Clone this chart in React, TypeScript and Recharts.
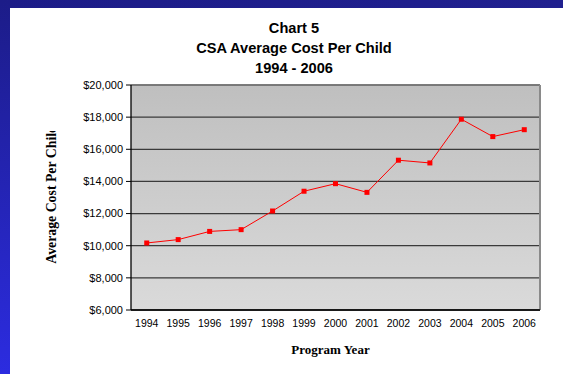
import React from "react";
import {
  LineChart,
  Line,
  XAxis,
  YAxis,
  CartesianGrid,
  ReferenceLine,
} from "recharts";

const years = [1994, 1995, 1996, 1997, 1998, 1999, 2000, 2001, 2002, 2003, 2004, 2005, 2006];
const avgCost = [10170, 10380, 10890, 11000, 12160, 13390, 13860, 13320, 15320, 15150, 17870, 16790, 17220];
const yTicks = [6000, 8000, 10000, 12000, 14000, 16000, 18000, 20000];
const yearBounds = [1993.5, ...years.map((y) => y + 0.5)];

const data = years.map((year, i) => ({ year, cost: avgCost[i] }));

const sans = "'Liberation Sans', Arial, sans-serif";
const serif = "'Liberation Serif', 'Times New Roman', serif";

// square red marker, like the Excel original
const SquareDot = (props: any) => {
  const { cx, cy } = props;
  if (cx == null || cy == null) return null;
  return <rect x={cx - 2.5} y={cy - 2.5} width={5} height={5} fill="#ff0000" />;
};

// the original's axis title is cut off at the top of its box
const YLabel = (props: any) => {
  const { viewBox } = props;
  const x = viewBox.x + 21;
  const y = viewBox.y + viewBox.height / 2 - 3;
  return (
    <g clipPath="url(#ylabClip)">
      <defs>
        <clipPath id="ylabClip">
          <rect x={viewBox.x} y={viewBox.y + 46} width={viewBox.width} height={viewBox.height} />
        </clipPath>
      </defs>
      <text
        x={x}
        y={y}
        transform={`rotate(-90, ${x}, ${y})`}
        textAnchor="middle"
        dominantBaseline="central"
        fontFamily={serif}
        fontWeight="bold"
        fontSize={13.8}
        fill="#000"
      >
        Average Cost Per Child
      </text>
    </g>
  );
};

const XLabel = (props: any) => {
  const { viewBox } = props;
  return (
    <text
      x={viewBox.x + viewBox.width / 2 - 5}
      y={viewBox.y + 39}
      textAnchor="middle"
      dominantBaseline="central"
      fontFamily={serif}
      fontWeight="bold"
      fontSize={13}
      fill="#000"
    >
      Program Year
    </text>
  );
};

export default function App() {
  return (
    <div
      style={{
        position: "absolute",
        left: 0,
        top: 0,
        width: 563,
        height: 374,
        background: "#fff",
        overflow: "hidden",
      }}
    >
      <div
        style={{
          position: "absolute",
          left: 0,
          top: 0,
          width: 563,
          height: 8,
          background: "linear-gradient(to right, #1c1c88, #20208f)",
        }}
      />
      <div
        style={{
          position: "absolute",
          left: 0,
          top: 0,
          width: 10,
          height: 374,
          background: "linear-gradient(to bottom, #1c1c88, #2c2ce0)",
        }}
      />
      <div
        style={{
          position: "absolute",
          left: 174,
          width: 240,
          top: 19,
          textAlign: "center",
          fontFamily: sans,
          fontWeight: "bold",
          fontSize: 14.6,
          lineHeight: "19.8px",
          color: "#000",
        }}
      >
        <div>Chart 5</div>
        <div>CSA Average Cost Per Child</div>
        <div>1994 - 2006</div>
      </div>
      <div style={{ position: "absolute", left: 0, top: 0 }}>
        <LineChart
          width={563}
          height={374}
          data={data}
          margin={{ top: 85, right: 23, left: 30, bottom: 0 }}
        >
          <defs>
            <linearGradient id="plotBg" x1="0" y1="0" x2="0" y2="1">
              <stop offset="0%" stopColor="#bfbfbf" />
              <stop offset="100%" stopColor="#dadada" />
            </linearGradient>
          </defs>
          <CartesianGrid
            vertical={false}
            fill="url(#plotBg)"
            stroke="#3a3a3a"
            strokeWidth={1.3}
          />
          <XAxis
            xAxisId="bounds"
            type="number"
            dataKey="year"
            domain={[1993.5, 2006.5]}
            ticks={yearBounds}
            interval={0}
            tick={false}
            tickSize={5}
            tickLine={{ stroke: "#000" }}
            axisLine={false}
            height={0}
          />
          <XAxis
            type="number"
            dataKey="year"
            domain={[1993.5, 2006.5]}
            ticks={years}
            interval={0}
            tickLine={false}
            tickSize={0}
            tickMargin={10}
            axisLine={{ stroke: "#000", strokeWidth: 1.3 }}
            tick={{ fill: "#000", fontSize: 10.5, fontFamily: sans }}
            height={64}
            label={<XLabel />}
          />
          <YAxis
            type="number"
            domain={[6000, 20000]}
            ticks={yTicks}
            interval={0}
            width={101}
            tickSize={5}
            tickMargin={3}
            tickLine={{ stroke: "#000" }}
            axisLine={{ stroke: "#000", strokeWidth: 1.3 }}
            tick={{ fill: "#000", fontSize: 11, fontFamily: sans }}
            tickFormatter={(v: number) => `$${v.toLocaleString("en-US")}`}
            label={<YLabel />}
          />
          <ReferenceLine y={20000} stroke="#808080" strokeWidth={1.5} />
          <ReferenceLine x={2006.5} stroke="#8a8a8a" strokeWidth={2} />
          <Line
            type="linear"
            dataKey="cost"
            stroke="#ff0000"
            strokeWidth={1}
            dot={<SquareDot />}
            activeDot={false}
            isAnimationActive={false}
          />
        </LineChart>
      </div>
    </div>
  );
}
